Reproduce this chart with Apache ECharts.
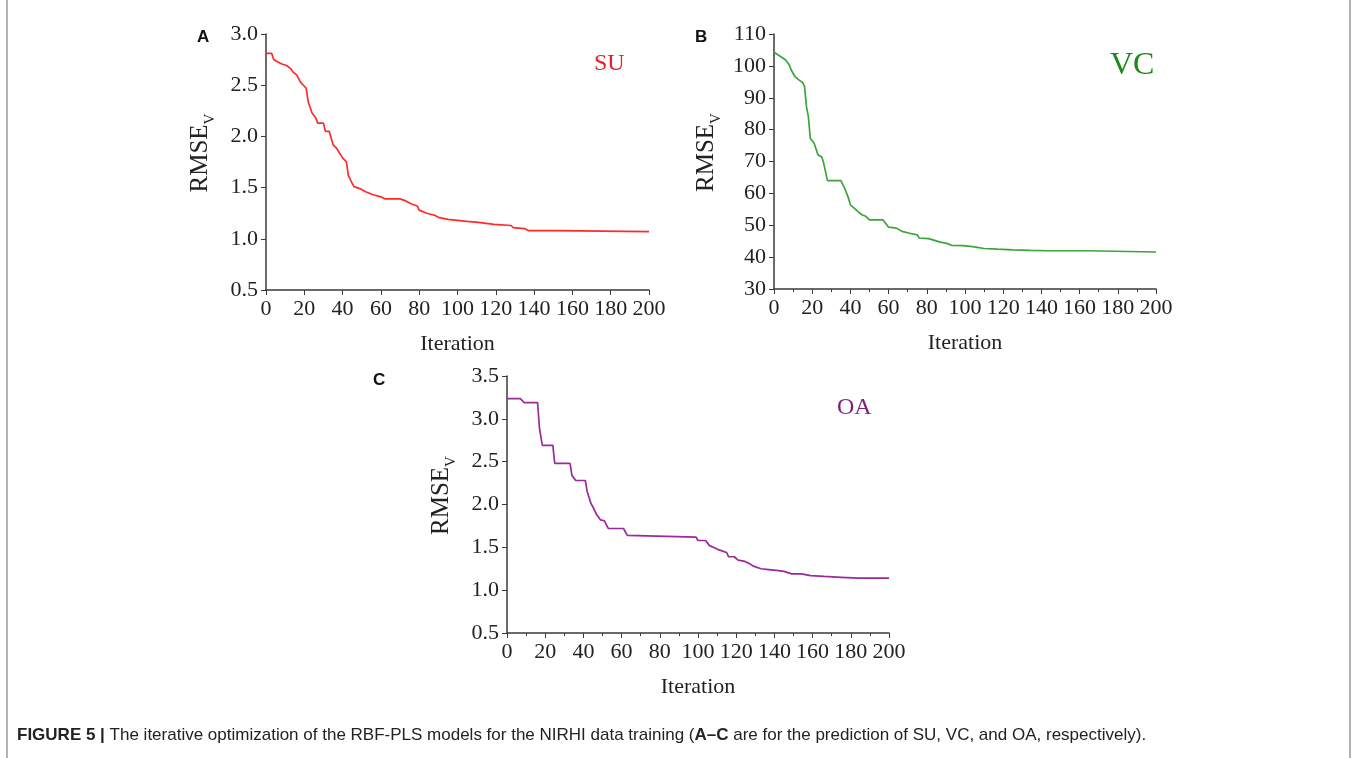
<!DOCTYPE html>
<html lang="en">

<head>
    <meta charset="UTF-8">
    <script src="https://cdn.jsdelivr.net/npm/echarts@6/dist/echarts.min.js"></script>
    <title>RBF-PLS iterative optimization</title>
    <style>
        html, body { margin: 0; padding: 0; background: #fff; }
    </style>
</head>

<body>
    <div id="main" style="width: 1357px;height:758px;"></div>
</body>
<script>
    // SU (panel A)
    var iterA = [0, 3, 4, 6, 8, 11, 13, 14, 16, 18, 20, 21, 22, 24, 26, 27, 30, 31, 33, 35, 37, 40, 42, 43, 45, 46, 49, 52, 56, 60, 62, 70, 73, 76, 79, 80, 84, 88, 90, 95, 100, 105, 111, 112, 119, 120, 128, 129, 135, 137, 152, 200];
    var rmseA = [2.81, 2.81, 2.75, 2.73, 2.71, 2.69, 2.66, 2.63, 2.60, 2.53, 2.49, 2.47, 2.34, 2.23, 2.18, 2.13, 2.13, 2.05, 2.05, 1.92, 1.88, 1.79, 1.75, 1.62, 1.54, 1.51, 1.49, 1.46, 1.43, 1.41, 1.39, 1.39, 1.37, 1.34, 1.32, 1.28, 1.25, 1.23, 1.21, 1.19, 1.18, 1.17, 1.16, 1.15, 1.14, 1.13, 1.13, 1.11, 1.10, 1.08, 1.08, 1.07];

    // VC (panel B)
    var iterB = [0, 3, 6, 8, 9, 11, 13, 15, 16, 17, 18, 19, 21, 23, 25, 26, 28, 35, 37, 39, 40, 42, 44, 46, 48, 50, 57, 60, 64, 67, 71, 75, 76, 81, 82, 87, 90, 93, 99, 104, 110, 117, 125, 134, 143, 164, 165, 200];
    var rmseB = [104.3, 103.1, 101.9, 100.3, 98.7, 96.6, 95.6, 94.8, 93.5, 87.2, 84.1, 77.3, 75.7, 72.1, 71.4, 69.5, 64.0, 64.0, 61.6, 58.5, 56.4, 55.4, 54.3, 53.3, 52.8, 51.7, 51.7, 49.4, 49.1, 48.1, 47.5, 47.0, 46.0, 45.8, 45.2, 44.7, 44.4, 43.7, 43.6, 43.3, 42.7, 42.5, 42.3, 42.1, 42.0, 42.0, 41.6, 41.6];

    // OA (panel C)
    var iterC = [0, 7, 9, 16, 17, 18.5, 24, 25, 33, 34, 36, 41, 42, 44, 45.5, 47, 49, 51, 53, 61, 63, 64, 99, 100, 104, 106, 108, 111, 115, 116, 119, 121, 124, 127, 129, 133, 137, 141, 145, 149, 154, 159, 166, 175, 184, 200];
    var rmseC = [3.235, 3.235, 3.19, 3.19, 2.89, 2.69, 2.69, 2.48, 2.48, 2.34, 2.28, 2.28, 2.15, 2.01, 1.95, 1.88, 1.82, 1.81, 1.72, 1.72, 1.64, 1.62, 1.62, 1.58, 1.58, 1.52, 1.50, 1.47, 1.44, 1.39, 1.39, 1.35, 1.34, 1.31, 1.28, 1.25, 1.24, 1.23, 1.22, 1.19, 1.19, 1.17, 1.16, 1.15, 1.14, 1.14];

    var serif = 'Liberation Serif';
    var axisColor = '#3a3a3a';

    function pairs(xs, ys) {
        return xs.map(function (x, i) { return [x, ys[i]]; });
    }

    function xAxisFor(idx, minor) {
        return {
            type: 'value', gridIndex: idx, min: 0, max: 200, interval: 20,
            name: 'Iteration', nameLocation: 'middle', nameGap: 43,
            nameTextStyle: { fontFamily: serif, fontSize: 22, color: '#222' },
            axisLine: { lineStyle: { color: axisColor, width: 1.5 } },
            axisTick: { length: 5, lineStyle: { color: axisColor } },
            minorTick: { show: minor, splitNumber: 2, length: 3, lineStyle: { color: axisColor } },
            splitLine: { show: false },
            axisLabel: { fontFamily: serif, fontSize: 22, color: '#222', margin: 8 }
        };
    }

    function yAxisFor(idx, min, max, interval, digits, gap) {
        return {
            type: 'value', gridIndex: idx, min: min, max: max, interval: interval,
            name: '{m|RMSE}{s|V}', nameLocation: 'middle', nameRotate: 90, nameGap: gap,
            nameTextStyle: {
                padding: [0, 0, 0, 18],
                rich: {
                    m: { fontFamily: serif, fontSize: 25, color: '#222', verticalAlign: 'bottom', padding: [0, 0, 5, 0] },
                    s: { fontFamily: serif, fontSize: 15, color: '#222', verticalAlign: 'bottom' }
                }
            },
            axisLine: { show: true, lineStyle: { color: axisColor, width: 1.5 } },
            axisTick: { show: true, length: 5, lineStyle: { color: axisColor } },
            splitLine: { show: false },
            axisLabel: {
                fontFamily: serif, fontSize: 22, color: '#222', margin: 8,
                formatter: function (v) { return v.toFixed(digits); }
            }
        };
    }

    var myChart = echarts.init(document.getElementById('main'));

    var option = {
        animation: false,
        backgroundColor: '#fff',
        grid: [
            { left: 266, top: 34, width: 383, height: 256 },
            { left: 774, top: 34, width: 382, height: 255 },
            { left: 507, top: 376, width: 382, height: 257 }
        ],
        xAxis: [xAxisFor(0, false), xAxisFor(1, true), xAxisFor(2, true)],
        yAxis: [
            yAxisFor(0, 0.5, 3.0, 0.5, 1, 48),
            yAxisFor(1, 30, 110, 10, 0, 50),
            yAxisFor(2, 0.5, 3.5, 0.5, 1, 48)
        ],
        series: [
            { name: 'SU', type: 'line', xAxisIndex: 0, yAxisIndex: 0, data: pairs(iterA, rmseA), showSymbol: false, lineStyle: { color: '#ff2a2a', width: 1.7 } },
            { name: 'VC', type: 'line', xAxisIndex: 1, yAxisIndex: 1, data: pairs(iterB, rmseB), showSymbol: false, lineStyle: { color: '#3aa53a', width: 1.7 } },
            { name: 'OA', type: 'line', xAxisIndex: 2, yAxisIndex: 2, data: pairs(iterC, rmseC), showSymbol: false, lineStyle: { color: '#9a2a9a', width: 1.7 } }
        ],
        graphic: [
            // frame edges
            { type: 'line', shape: { x1: 7, y1: 0, x2: 7, y2: 758 }, style: { stroke: '#9a9a9a', lineWidth: 1.5 } },
            { type: 'line', shape: { x1: 1350, y1: 0, x2: 1350, y2: 758 }, style: { stroke: '#9a9a9a', lineWidth: 1.5 } },
            // panel letters
            { type: 'text', left: 197, top: 29, style: { text: 'A', font: 'bold 17px "Liberation Sans"', fill: '#111' } },
            { type: 'text', left: 695, top: 29, style: { text: 'B', font: 'bold 17px "Liberation Sans"', fill: '#111' } },
            { type: 'text', left: 373, top: 372, style: { text: 'C', font: 'bold 17px "Liberation Sans"', fill: '#111' } },
            // trait labels
            { type: 'text', left: 594, top: 52, style: { text: 'SU', font: '24px "Liberation Serif"', fill: '#ee1c24' } },
            { type: 'text', left: 1110, top: 50, style: { text: 'VC', font: '32px "Liberation Serif"', fill: '#1b8c1b' } },
            { type: 'text', left: 837, top: 396, style: { text: 'OA', font: '24px "Liberation Serif"', fill: '#7d1f7d' } },
            // caption
            {
                type: 'text', left: 17, top: 727,
                style: {
                    text: '{b|FIGURE 5 |} The iterative optimization of the RBF-PLS models for the NIRHI data training ({b|A–C} are for the prediction of SU, VC, and OA, respectively).',
                    font: '17px "Liberation Sans"', fill: '#222',
                    rich: { b: { fontFamily: 'Liberation Sans', fontSize: 17, fontWeight: 'bold', fill: '#222' } }
                }
            }
        ]
    };
    myChart.setOption(option);
</script>

</html>
